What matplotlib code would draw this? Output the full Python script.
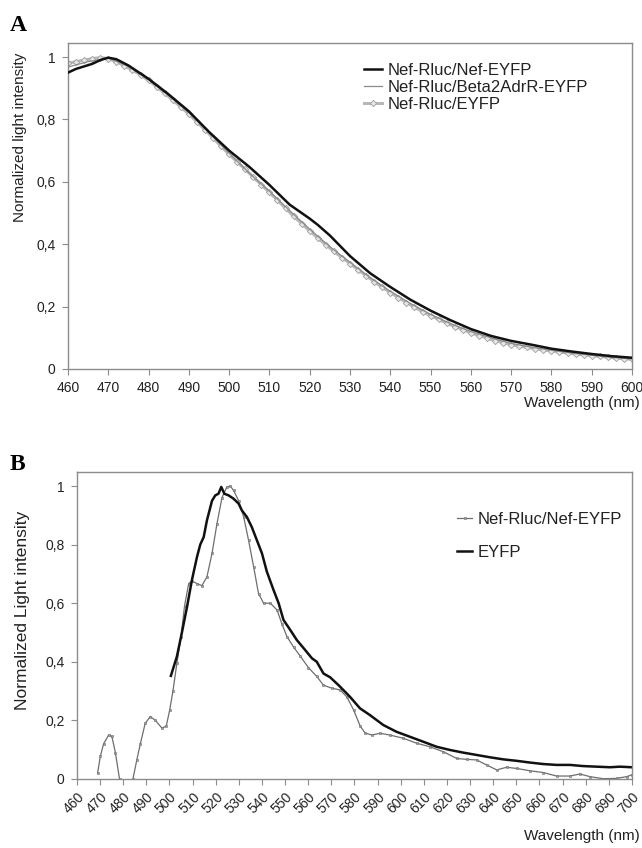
import numpy as np
import matplotlib
matplotlib.use("Agg")
import matplotlib.pyplot as plt

plt.rcParams['font.family'] = ['Liberation Sans', 'DejaVu Sans']

#%% panel A data
wl_a_gray = np.arange(460, 601, 2)
nef_eyfp_a = [0.98, 0.985, 0.99, 0.995, 0.998, 0.995, 0.985, 0.972, 0.958, 0.943,
              0.925, 0.905, 0.884, 0.862, 0.84, 0.817, 0.792, 0.767, 0.741, 0.714,
              0.688, 0.664, 0.64, 0.615, 0.591, 0.566, 0.541, 0.515, 0.49, 0.466,
              0.443, 0.42, 0.398, 0.377, 0.357, 0.338, 0.318, 0.299, 0.28, 0.262,
              0.245, 0.229, 0.213, 0.198, 0.184, 0.171, 0.159, 0.147, 0.136, 0.126,
              0.116, 0.107, 0.099, 0.091, 0.084, 0.078, 0.073, 0.069, 0.065, 0.061,
              0.058, 0.054, 0.051, 0.048, 0.045, 0.043, 0.04, 0.038, 0.035, 0.033,
              0.031]

wl_a_black = [460, 462, 464, 466, 468, 470, 472, 475, 480, 485, 490, 495, 500, 505,
              510, 515, 520, 522, 525, 530, 535, 540, 545, 550, 555, 560, 565, 570,
              575, 580, 585, 590, 595, 600]
nef_nef_a = [0.95, 0.962, 0.97, 0.978, 0.99, 0.998, 0.993, 0.973, 0.93, 0.88, 0.826,
             0.76, 0.70, 0.648, 0.59, 0.527, 0.482, 0.462, 0.428, 0.362, 0.307, 0.263,
             0.222, 0.187, 0.156, 0.128, 0.106, 0.09, 0.078, 0.065, 0.056, 0.048,
             0.041, 0.036]

wl_a_beta = [460, 465, 470, 475, 480, 485, 490, 495, 500, 505, 510, 515, 520, 525,
             530, 535, 540, 545, 550, 555, 560, 565, 570, 575, 580, 585, 590, 595, 600]
nef_beta_a = [0.968, 0.985, 0.997, 0.97, 0.928, 0.877, 0.822, 0.758, 0.692, 0.628,
              0.57, 0.508, 0.448, 0.392, 0.342, 0.293, 0.249, 0.21, 0.175, 0.145,
              0.12, 0.1, 0.082, 0.07, 0.06, 0.051, 0.044, 0.037, 0.032]

#%% panel B data
wl_b_nef = [468.9, 470.1, 471.5, 473.7, 475.1, 476.6, 478.4, 480, 482, 484.2, 485.9,
            487.4, 489.5, 491.7, 493.9, 496.7, 498.6, 500.1, 501.5, 503.2, 505, 506.5,
            508.3, 509.7, 511.9, 514, 516.2, 518.4, 520.5, 522.7, 524.8, 526.3, 527.7,
            529.9, 532.1, 534.2, 536.4, 538.5, 540.7, 543.6, 546.5, 548.6, 550.8,
            553.7, 556.5, 560.1, 563.7, 566.6, 570.2, 573.8, 576.7, 579.6, 582.5,
            584.6, 587.5, 591, 595.3, 601.1, 606.9, 612.6, 618.4, 624.2, 628.5,
            632.8, 637.1, 641.5, 645.8, 650.1, 655.9, 661.6, 667.4, 673.2, 677.5,
            681.8, 687.6, 693.4, 697.7, 699.9]
nef_nef_b = [0.02, 0.077, 0.12, 0.15, 0.145, 0.09, 0.0, -0.06, -0.06, 0.0, 0.066,
             0.12, 0.19, 0.213, 0.20, 0.174, 0.18, 0.236, 0.30, 0.395, 0.486, 0.59,
             0.667, 0.676, 0.667, 0.66, 0.69, 0.77, 0.87, 0.96, 0.997, 1.0, 0.985,
             0.95, 0.894, 0.815, 0.724, 0.633, 0.60, 0.60, 0.577, 0.53, 0.486, 0.45,
             0.42, 0.38, 0.35, 0.32, 0.31, 0.304, 0.28, 0.236, 0.18, 0.157, 0.15,
             0.156, 0.15, 0.139, 0.122, 0.11, 0.093, 0.07, 0.067, 0.065, 0.048, 0.031,
             0.04, 0.036, 0.028, 0.022, 0.01, 0.01, 0.017, 0.008, 0.001, 0.002, 0.008,
             0.014]

wl_b_eyfp = [500.6, 503.2, 505.3, 507.6, 509.7, 511.9, 513.3, 514.8, 516.2, 518.4,
             519.8, 521.2, 522.4, 523.7, 525.6, 527.7, 529.9, 531.3, 533.5, 535.6,
             537.8, 540, 542.1, 545, 547.2, 549.3, 552.2, 555.1, 558.7, 561.6, 563.7,
             566.6, 569.5, 573.4, 578, 582.4, 586.7, 592.5, 598.2, 604, 609.8, 615.5,
             621.3, 627, 632.8, 638.6, 644.3, 650.1, 655.9, 661.6, 667.4, 673.2,
             678.9, 684.7, 690.5, 694.8, 699.9]
eyfp_b = [0.352, 0.418, 0.497, 0.588, 0.679, 0.758, 0.80, 0.826, 0.883, 0.95, 0.968,
          0.974, 0.997, 0.974, 0.968, 0.957, 0.94, 0.917, 0.894, 0.86, 0.815, 0.77,
          0.708, 0.645, 0.60, 0.543, 0.509, 0.474, 0.44, 0.412, 0.40, 0.36, 0.347,
          0.318, 0.281, 0.241, 0.218, 0.184, 0.161, 0.144, 0.127, 0.11, 0.099, 0.09,
          0.082, 0.074, 0.067, 0.062, 0.056, 0.051, 0.048, 0.048, 0.044, 0.042, 0.04,
          0.042, 0.04]

#%% figure
spine_c = '#8c8c8c'
txt_c = '#222222'

def comma(v):
    return ('%g' % v).replace('.', ',')

def style(ax, xt, yt):
    for sp in ax.spines.values():
        sp.set_color(spine_c)
        sp.set_linewidth(1.0)
    ax.set_yticks(yt)
    ax.set_yticklabels([comma(v) for v in yt])
    ax.tick_params(axis='both', direction='out', length=4, width=0.8,
                   color=spine_c, labelcolor=txt_c, labelsize=10)
    ax.tick_params(axis='y', pad=5)
    ax.set_xticks(xt)

fig = plt.figure(figsize=(6.42, 8.48), dpi=100)

# panel A
axA = fig.add_axes([0.1059, 0.5649, 0.8785, 0.3844])
axA.plot(wl_a_gray, nef_eyfp_a, color='#b8b8b8', lw=2.2, marker='D', ms=3.2,
         mfc='#e6e6e6', mec='#a0a0a0', mew=0.6, label='Nef-Rluc/EYFP', zorder=2)
axA.plot(wl_a_beta, nef_beta_a, color='#8a8a8a', lw=0.9,
         label='Nef-Rluc/Beta2AdrR-EYFP', zorder=3)
axA.plot(wl_a_black, nef_nef_a, color='#111111', lw=1.8,
         label='Nef-Rluc/Nef-EYFP', zorder=4)
axA.set_xlim(460, 600)
axA.set_ylim(0, 1.045)
style(axA, np.arange(460, 601, 10), [0, 0.2, 0.4, 0.6, 0.8, 1])
axA.tick_params(axis='x', pad=5)
h, l = axA.get_legend_handles_labels()
order = [2, 1, 0]
leg = axA.legend([h[i] for i in order], [l[i] for i in order], loc='upper left',
                 bbox_to_anchor=(0.525, 0.94), frameon=False, fontsize=12,
                 handlelength=1.1, handletextpad=0.3, labelspacing=0.12,
                 borderpad=0, borderaxespad=0)
for t in leg.get_texts():
    t.set_color(txt_c)
axA.set_ylabel('Normalized light intensity', fontsize=11, color=txt_c)
axA.yaxis.set_label_coords(-0.073, 0.71)
fig.text(0.997, 0.525, 'Wavelength (nm)', ha='right', va='center',
         fontsize=11, color=txt_c)
fig.text(0.015, 0.97, 'A', fontsize=17, fontweight='bold',
         family='Liberation Serif', va='center', ha='left')

# panel B
axB = fig.add_axes([0.1199, 0.0814, 0.8645, 0.362])
axB.plot(wl_b_nef, nef_nef_b, color='#6e6e6e', lw=0.9, marker='s', ms=1.7,
         mfc='#a0a0a0', mec='#6e6e6e', mew=0.4, label='Nef-Rluc/Nef-EYFP')
axB.plot(wl_b_eyfp, eyfp_b, color='#111111', lw=1.8, label='EYFP')
axB.set_xlim(460, 700)
axB.set_ylim(0, 1.048)
xtB = np.arange(460, 701, 10)
style(axB, xtB, [0, 0.2, 0.4, 0.6, 0.8, 1])
axB.set_xticklabels([str(v) for v in xtB], rotation=45, ha='right',
                    rotation_mode='anchor', fontsize=10)
legB = axB.legend(loc='upper left', bbox_to_anchor=(0.685, 0.87), frameon=False,
                  fontsize=12, handlelength=0.9, handletextpad=0.3,
                  labelspacing=1.1, borderpad=0, borderaxespad=0)
for t in legB.get_texts():
    t.set_color(txt_c)
axB.set_ylabel('Normalized Light intensity', fontsize=12.5, color=txt_c)
axB.yaxis.set_label_coords(-0.085, 0.55)
fig.text(0.997, 0.006, 'Wavelength (nm)', ha='right', va='bottom',
         fontsize=11, color=txt_c)
fig.text(0.015, 0.452, 'B', fontsize=17, fontweight='bold',
         family='Liberation Serif', va='center', ha='left')

fig.savefig('out.png', dpi=100)
